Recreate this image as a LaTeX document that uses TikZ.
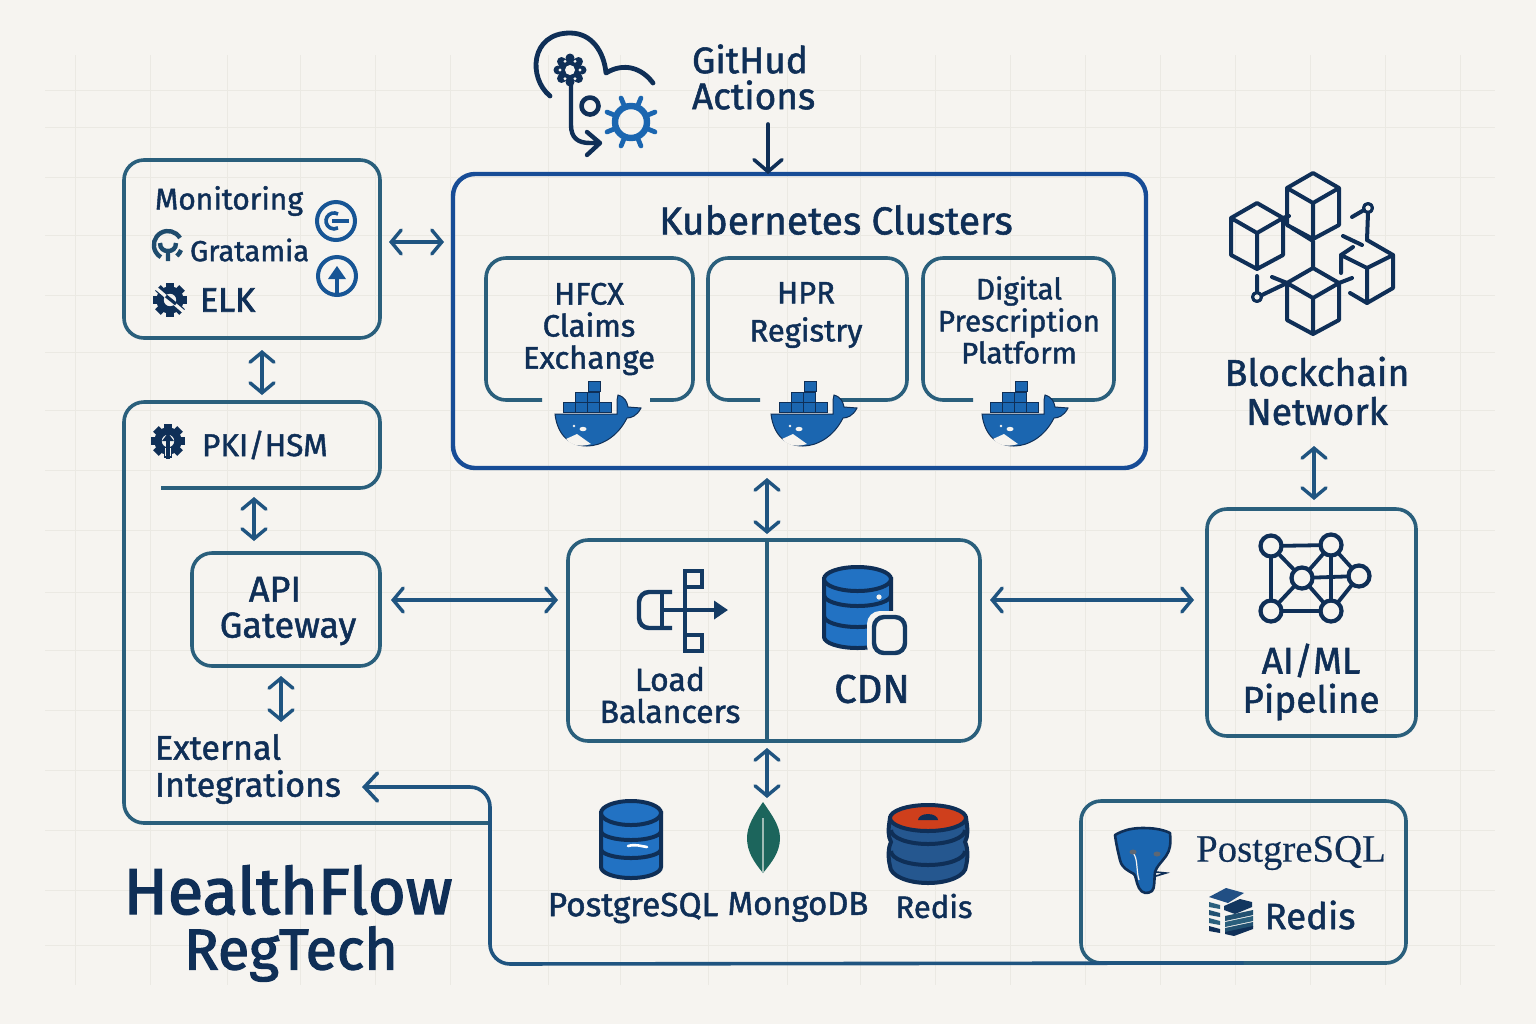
\documentclass[tikz,border=0pt]{standalone}
\usepackage{fontspec}
\setmainfont[FakeBold=1.4]{Fira Sans}
\newfontfamily\heavyf[FakeBold=2.2]{Fira Sans}
\newfontfamily\seriff[FakeBold=0.3]{Liberation Serif}
\usetikzlibrary{arrows.meta,fit,calc}
\definecolor{bgc}{HTML}{F6F4F0}
\definecolor{gridc}{HTML}{EBE9E3}
\definecolor{ink}{HTML}{0F2F57}
\definecolor{teal}{HTML}{2A5F7C}
\definecolor{arrowc}{HTML}{1F5480}
\definecolor{kubec}{HTML}{174C96}
\definecolor{blue}{HTML}{2272C3}
\definecolor{midblue}{HTML}{1B66B0}
\definecolor{redisb}{HTML}{25578F}
\definecolor{redisr}{HTML}{CF3F1C}
\definecolor{leaf}{HTML}{1C655C}
\tikzset{
  x=0.5pt,y=-0.5pt,
  panel/.style={draw=teal,line width=1.8pt,rounded corners=10pt,inner sep=0pt,outer sep=0pt},
  ghost/.style={inner sep=0pt,outer sep=0pt},
  panelline/.style={draw=teal,line width=1.8pt,rounded corners=10pt},
  both/.style={draw=arrowc,line width=1.7pt,{Straight Barb[length=5pt,width=12pt,line cap=round]}-{Straight Barb[length=5pt,width=12pt,line cap=round]}},
  lbl/.style={text=ink,inner sep=0pt,outer sep=0pt,align=center},
  icon/.style={draw=ink,line width=2pt,line cap=round,line join=round},
  whalepic/.pic={
    \fill[midblue,draw=ink,line width=.5pt] (0,44)--(62,44)--(62,30)--(63,25) .. controls (70,27) and (72,32) .. (73,37)--(86,38) .. controls (82,46) and (76,48) .. (72,48) .. controls (62,68) and (45,76) .. (32,76) .. controls (12,76) and (2,62) .. (0,44)--cycle;
    \foreach \bx/\by in {8/32,20/32,32/32,44/32,20/22,32/22,33/11}
      \fill[midblue,draw=ink,line width=.35pt] (\bx,\by) rectangle ++(12,10.5);
    \fill[bgc] (11,69)--(22,64)--(36,74) .. controls (26,77) and (17,76) .. (11,69)--cycle;
    \fill[bgc] (28,59) ellipse (3.5 and 2.2);
    \fill[bgc] (19,56) circle (1.3);
  },
  cubepic/.pic={
    \draw[icon] (0,15)--(26,0)--(52,15)--(26,30)--cycle (0,15)--(0,52)--(26,66)--(52,52)--(52,15) (26,30)--(26,66);
  },
  gearpic/.pic={
    \foreach \a in {0,45,...,315}
      \draw[draw=ink,line width=4pt] (\a:10)--(\a:17);
    \draw[draw=ink,line width=3.6pt] (0,0) circle (10);
  },
  dbpic/.pic={
    \fill[blue,draw=ink,line width=2pt] (-30,0)--(-30,54) arc[start angle=180,end angle=0,x radius=30,y radius=11]--(30,0)--cycle;
    \fill[blue,draw=ink,line width=2pt] (0,0) ellipse (30 and 12);
    \foreach \yy in {18,36}
      \draw[ink,line width=2pt] (-30,\yy) arc[start angle=180,end angle=0,x radius=30,y radius=9];
  }
}
\begin{document}
\begin{tikzpicture}
\useasboundingbox (0,0) rectangle (1536,1024);
\fill[bgc] (0,0) rectangle (1536,1024);
% faint grid
\foreach \gx in {75,150,227,300,375,450,548,620,708,787,860,935,1010,1085,1160,1235,1310,1385,1460}
  \draw[gridc,line width=.5pt] (\gx,55)--(\gx,985);
\foreach \gy in {90,127,177,235,295,352,410,470,530,592,650,710,770,830,890,945}
  \draw[gridc,line width=.5pt] (45,\gy)--(1495,\gy);

% ---------- panels
\node[panel,fit={(124,160)(380,338)}] (mon) {};
\node[ghost,fit={(124,402)(380,488)}] (pki) {};
\coordinate (pkistart) at (161,488);
\coordinate (junction) at (490,823);
\draw[panelline] (pkistart)--(pki.south east)--(pki.north east)--(pki.north west)--(pki.west |- junction)--(junction);
\node[panel,fit={(192,553)(380,666)}] (api) {};
\node[draw=kubec,line width=2.2pt,rounded corners=11pt,inner sep=0pt,outer sep=0pt,fit={(453,174)(1146,468)}] (kube) {};
\node[ghost,fit={(486,258)(693,400)}] (hfcx) {};
\node[ghost,fit={(708,258)(907,400)}] (hpr) {};
\node[ghost,fit={(923,258)(1114,400)}] (dpp) {};
\coordinate (ga) at (542,400); \coordinate (gb) at (650,400);
\coordinate (gc) at (760,400); \coordinate (gd) at (836,400);
\coordinate (ge) at (973,400); \coordinate (gf) at (1050,400);
\draw[panelline] (ga)--(hfcx.south west)--(hfcx.north west)--(hfcx.north east)--(hfcx.south east)--(gb);
\draw[panelline] (gc)--(hpr.south west)--(hpr.north west)--(hpr.north east)--(hpr.south east)--(gd);
\draw[panelline] (ge)--(dpp.south west)--(dpp.north west)--(dpp.north east)--(dpp.south east)--(gf);
\node[panel,fit={(568,540)(980,741)}] (edge) {};
\coordinate (divider) at (767,640);
\draw[teal,line width=1.8pt] (divider |- edge.north)--(divider |- edge.south);
\node[panel,fit={(1207,509)(1416,736)}] (aiml) {};
\node[panel,fit={(1081,801)(1406,963)}] (store) {};

% ---------- labels
\node[lbl,font=\fontsize{18.5}{18}\selectfont] (ghlabel) at (692,77) [anchor=west,align=left] {GitHud\\Actions};
\node[lbl,font=\fontsize{19.5}{18}\selectfont] (kubelabel) at (836,220) {Kubernetes Clusters};
\node[lbl,font=\fontsize{15.5}{16}\selectfont] (hfcxlabel) at (589,329) {HFCX\\Claims\\Exchange};
\node[lbl,font=\fontsize{15.5}{19}\selectfont] (hprlabel) at (806,315) {HPR\\Registry};
\node[lbl,font=\fontsize{14.8}{16}\selectfont] (dpplabel) at (1019,320) {Digital\\Prescription\\Platform};
\node[lbl,font=\fontsize{15}{15}\selectfont,anchor=west] (monlabel) at (155,201) {Monitoring};
\node[lbl,font=\fontsize{14.5}{15}\selectfont,anchor=west] (grlabel) at (190,250) {Gratamia};
\node[lbl,font=\heavyf\fontsize{17}{16}\selectfont,anchor=west] (elklabel) at (200,300) {ELK};
\node[lbl,font=\fontsize{15.8}{16}\selectfont,anchor=west] (pkilabel) at (202,445) {PKI/HSM};
\node[lbl,font=\fontsize{18}{18}\selectfont] (apilabel) at (288,611) {\hspace*{-13pt}API\\Gateway};
\node[lbl,font=\fontsize{17}{18.5}\selectfont,anchor=west,align=left] (extlabel) at (155,769) {External\\Integrations};
\node[lbl,font=\fontsize{16}{16}\selectfont] (lblabel) at (670,695) {Load\\Balancers};
\node[lbl,font=\fontsize{20}{18}\selectfont] (cdnlabel) at (872,689) {CDN};
\node[lbl,font=\fontsize{18.7}{19.5}\selectfont] (bclabel) at (1317,391) {Blockchain\\Network};
\node[lbl,font=\fontsize{18.5}{19.5}\selectfont] (ailabel) at (1311,682) {AI/ML\\Pipeline};
\node[lbl,font=\fontsize{16.7}{16}\selectfont] (pglabel) at (633,908) {PostgreSQL};
\node[lbl,font=\fontsize{16.4}{16}\selectfont] (mglabel) at (798,907) {MongoDB};
\node[lbl,font=\fontsize{15.5}{16}\selectfont] (rdlabel) at (934,906) {Redis};
\node[lbl,font=\seriff\fontsize{19.4}{19}\selectfont] (pgslabel) at (1291,853) {PostgreSQL};
\node[lbl,font=\fontsize{18.3}{17}\selectfont] (rdslabel) at (1310,915) {Redis};
\node[lbl,font=\heavyf\fontsize{32.5}{31}\selectfont] (hflabel) at (288,890) {HealthFlow};
\node[lbl,font=\heavyf\fontsize{28.7}{27}\selectfont] (rtlabel) at (291,954) {RegTech};

% ---------- connectors
\coordinate (ghout) at (768,124);
\draw[ink,line width=1.8pt,line cap=round,-{Straight Barb[length=6pt,width=14pt,line cap=round]}] (ghout)--(ghout |- kube.north);
\coordinate (r1) at (0,242);
\draw[both,shorten <=4.5pt,shorten >=4.5pt] (mon.east |- r1)--(kube.west |- r1);
\coordinate (c1) at (262,0);
\draw[both,shorten <=6pt,shorten >=3.5pt] (c1 |- mon.south)--(c1 |- pki.north);
\coordinate (c2) at (254,0);
\draw[both,shorten <=4.5pt,shorten >=6pt] (c2 |- pki.south)--(c2 |- api.north);
\coordinate (r2) at (0,600);
\draw[both,shorten <=5.5pt,shorten >=5pt] (api.east |- r2)--(edge.west |- r2);
\draw[both,shorten <=5pt,shorten >=6.5pt] (edge.east |- r2)--(aiml.west |- r2);
\coordinate (c3) at (281,0);
\coordinate (extn) at (281,722);
\draw[both,shorten <=5pt] (c3 |- api.south)--(extn);
\coordinate (c4) at (767,0);
\draw[both,shorten <=5pt,shorten >=3pt] (c4 |- kube.south)--(c4 |- edge.north);
\coordinate (dbtop) at (767,798);
\draw[both,shorten <=3.5pt] (c4 |- edge.south)--(dbtop);
\coordinate (bcbot) at (1314,446);
\draw[both,shorten >=4.5pt] (bcbot)--(bcbot |- aiml.north);
\coordinate (exttip) at (362,787);
\coordinate (corner1) at (490,787);
\coordinate (corner2) at (490,964);
\draw[draw=arrowc,line width=1.8pt,rounded corners=10pt,-{Straight Barb[length=6.5pt,width=14pt,line cap=round]}] (store.south)--(corner2)--(corner1)--(exttip);

% ---------- GitHub icon
\draw[icon,line width=2.4pt] (550,96) .. controls (528,78) and (530,33) .. (570,33) .. controls (592,33) and (604,52) .. (606,73) .. controls (624,62) and (642,68) .. (653,83);
\foreach \a in {0,45,...,315} \fill[ink] (570,70)++(\a:12) circle (4.5);
\fill[ink] (570,70) circle (12);
\fill[bgc] (570,70) circle (5);
\foreach \a in {0,60,...,300} \fill[bgc] (570,70)++(\a:10) circle (1.6);
\draw[icon,line width=2.2pt] (571,85)--(571,125) .. controls (571,138) and (578,143) .. (590,143)--(600,143) (587,132)--(600,143)--(587,155);
\draw[icon,line width=2.3pt] (590,106) circle (8.5);
\draw[midblue,line width=3.2pt] (631,122) circle (16);
\foreach \a in {22.5,67.5,...,337.5} \draw[midblue,line width=2.4pt,line cap=round] (631,122)++(\a:17)--++(\a:9);

% ---------- Monitoring icons
\draw[midblue!70!ink,line width=2pt] (336,221) circle (19);
\draw[midblue!70!ink,line width=1.6pt] (349,221)--(332,221);
\draw[midblue!70!ink,line width=1.8pt] (338,214) arc[start angle=-60,end angle=-300,radius=8];
\draw[midblue!70!ink,line width=2pt] (337,276) circle (19);
\fill[midblue!70!ink] (337,266)--(328,279)--(346,279)--cycle;
\draw[midblue!70!ink,line width=1.6pt] (337,275)--(337,293);
\draw[teal!60!ink,line width=2.2pt] (180,238) arc[start angle=-30,end angle=-240,radius=14];
\draw[teal!60!ink,line width=2.2pt] (181,250) arc[start angle=20,end angle=50,radius=14];
\draw[teal!60!ink,line width=2.2pt] (168,261)--(168,251) (160,243) .. controls (160,249) and (164,251) .. (168,251) .. controls (172,251) and (176,249) .. (176,243);
\pic at (170,300) {gearpic};
\draw[bgc,line width=1.6pt] (156,288)--(184,312);
\draw[ink,line width=1.6pt] (166,296)--(176,304);
\pic at (168,441) {gearpic};
\draw[bgc,line width=3.4pt] (168,448)--(168,456);
\draw[ink,line width=2pt] (168,438)--(168,459);
\fill[ink] (168,433)--(162,441)--(174,441)--cycle;

% ---------- whales
\pic at (555,370) {whalepic};
\pic at (771,370) {whalepic};
\pic at (982,370) {whalepic};

% ---------- Blockchain icon
\pic at (1287,173) {cubepic};
\pic at (1231,203) {cubepic};
\pic at (1287,268) {cubepic};
\draw[icon] (1367,240)--(1393,255)--(1393,288)--(1367,303)--(1367,268)--(1341,255)--(1341,273);
\draw[icon] (1393,255)--(1367,268) (1350,293)--(1367,303);
\draw[icon] (1292,228)--(1313,241)--(1313,268) (1343,236)--(1362,245) (1353,247)--(1341,255);
\draw[icon] (1283,218)--(1289,216) (1272,277)--(1287,283) (1339,283)--(1352,278);
\draw[icon] (1352,217)--(1364,210) (1368,213)--(1367,240);
\draw[icon,line width=1.6pt] (1368,208) circle (4.5);
\draw[icon] (1257,276)--(1257,292) (1262,295)--(1287,283);
\draw[icon,line width=1.6pt] (1257,297) circle (4.5);

% ---------- AI/ML network
\tikzset{netdot/.style={circle,draw=ink,line width=2.1pt,minimum size=10.5pt,inner sep=0pt,outer sep=0pt}}
\node[netdot] (n1) at (1271,546) {};
\node[netdot] (n2) at (1331,545) {};
\node[netdot] (n3) at (1302,578) {};
\node[netdot] (n4) at (1359,576) {};
\node[netdot] (n5) at (1271,611) {};
\node[netdot] (n6) at (1331,611) {};
\foreach \p/\q in {n1/n2,n1/n3,n1/n5,n2/n3,n2/n4,n2/n6,n3/n4,n3/n5,n3/n6,n4/n6,n5/n6}
  \draw[ink,line width=1.9pt] (\p)--(\q);

% ---------- Load balancer icon
\draw[draw=ink!70!arrowc,line width=2.2pt,rounded corners=5pt] (672,592)--(639,592)--(639,628)--(672,628);
\draw[ink!70!arrowc,line width=2.2pt] (662,592)--(662,628);
\draw[ink!70!arrowc,line width=2.2pt,-{Triangle[length=7pt,width=9pt]}] (662,610)--(728,610);
\draw[ink!70!arrowc,line width=2.2pt] (685,587)--(685,633);
\draw[ink!70!arrowc,line width=2.2pt] (685,571) rectangle (702,587);
\draw[ink!70!arrowc,line width=2.2pt] (685,635) rectangle (702,651);

% ---------- CDN icon
\fill[blue,draw=ink,line width=2pt] (824,579)--(824,637) arc[start angle=180,end angle=0,x radius=33.5,y radius=11]--(891,579)--cycle;
\fill[blue,draw=ink,line width=2pt] (857.5,579) ellipse (33.5 and 12);
\foreach \yy in {595,616}
  \draw[ink,line width=2pt] (824,\yy) arc[start angle=180,end angle=0,x radius=33.5,y radius=11];
\fill[bgc] (879,597) circle (2.6);
\draw[bgc,line width=3pt,fill=bgc,rounded corners=5pt] (870,614) rectangle (908,656);
\draw[ink!70!arrowc,line width=2.2pt,fill=bgc,rounded corners=5pt] (874,617) rectangle (905,653);

% ---------- Databases
\pic at (631,813) {dbpic};
\draw[white,line width=1.3pt,line cap=round] (628,846) .. controls (636,844) and (640,846) .. (647,847);
\fill[leaf] (763,802) .. controls (772,815) and (780,826) .. (780,838) .. controls (780,852) and (772,862) .. (763,873) .. controls (754,862) and (747,852) .. (747,838) .. controls (747,826) and (754,815) .. (763,802)--cycle;
\draw[leaf!40!bgc,line width=.8pt] (763,818)--(763,873);
\fill[redisb,draw=ink,line width=2pt] (890,818) .. controls (888,830) and (888,836) .. (891,842) .. controls (888,848) and (888,858) .. (890,866) arc[start angle=180,end angle=0,x radius=38,y radius=17] .. controls (968,858) and (968,848) .. (965,842) .. controls (968,836) and (968,830) .. (966,818)--cycle;
\draw[ink,line width=2pt] (891,830) arc[start angle=180,end angle=0,x radius=37,y radius=14];
\draw[ink,line width=2pt] (891,851) arc[start angle=180,end angle=0,x radius=37,y radius=14];
\fill[redisr,draw=ink,line width=2pt] (928,818) ellipse (38 and 13);
\fill[ink] (918,820) arc[start angle=180,end angle=360,x radius=10,y radius=6]--cycle;

% ---------- Elephant
\fill[midblue,draw=ink,line width=1.3pt,line join=round] (1115,835) .. controls (1125,829) and (1135,828) .. (1143,828) .. controls (1152,828) and (1162,829) .. (1170,833) .. controls (1171,845) and (1170,850) .. (1166,856) .. controls (1160,864) and (1157,866) .. (1155,872) .. controls (1154,880) and (1155,888) .. (1152,891) .. controls (1148,894) and (1142,894) .. (1139,888) .. controls (1136,882) and (1136,876) .. (1134,874) .. controls (1127,870) and (1122,868) .. (1120,860) .. controls (1118,852) and (1116,843) .. (1115,835)--cycle;
\draw[bgc,line width=.6pt] (1133,853) .. controls (1138,858) and (1136,870) .. (1139,880);
\fill[gray!70!ink] (1133,852) ellipse (3.5 and 2.5);
\fill[gray!70!ink] (1157,854) ellipse (3.5 and 2.5);
\draw[ink,line width=.8pt] (1156,872)--(1166,873)--(1156,876);

% ---------- small Redis stack
\fill[redisb!80!ink] (1209,897)--(1226,888)--(1244,893)--(1228,903)--cycle;
\fill[ink!80!arrowc] (1224,906)--(1240,899)--(1252,902)--(1252,907)--(1235,914)--(1224,910)--cycle;
\foreach \yy/\cc in {903/teal,911/teal!70!ink,919/teal,927/ink}
  \fill[\cc] (1209,\yy-1)--(1220,\yy+2)--(1220,\yy+6)--(1209,\yy+4)--cycle;
\foreach \yy/\cc in {914/teal!70!ink,920/teal,926/teal!70!ink}
  \fill[\cc] (1225,\yy+2)--(1253,\yy-4)--(1253,\yy+1)--(1225,\yy+7)--cycle;
\fill[ink] (1225,932)--(1253,926)--(1253,929)--(1234,936)--(1225,934)--cycle;
\end{tikzpicture}
\end{document}
